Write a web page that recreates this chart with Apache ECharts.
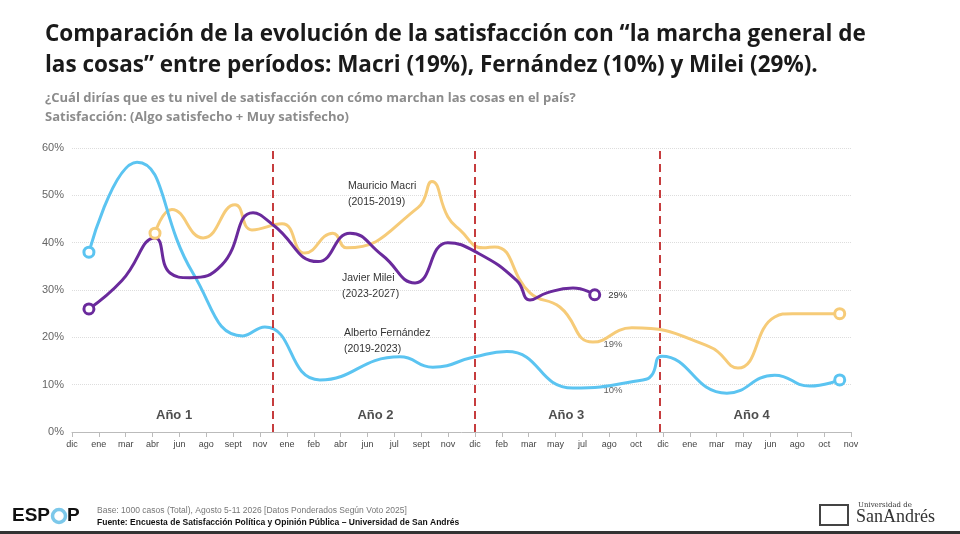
<!DOCTYPE html>
<html><head><meta charset="utf-8">
<script src="https://cdn.jsdelivr.net/npm/echarts@6/dist/echarts.min.js"></script>
<style>html,body{margin:0;padding:0;background:#fff}#c{width:960px;height:534px}</style>
</head><body><div id="c"></div>
<script>
const monthLabels = ['dic','ene','mar','abr','jun','ago','sept','nov','ene','feb','abr','jun','jul','sept','nov','dic','feb','mar','may','jul','ago','oct','dic','ene','mar','may','jun','ago','oct','nov'];
const fernandezX = [0.63,2.42,4.5,6.36,7.18,9.23,12.21,13.43,15.0,16.19,18.65,21.25,21.58,21.96,24.38,26.16,27.47,28.58];
const fernandezY = [38,57,33.6,20.3,22.2,11,15.9,13.7,15.9,17,9.3,11,12,16,8.2,12,9.7,11];
const macriX = [3.09,3.72,4.88,6.07,6.7,7.82,8.67,9.71,10.23,12.88,13.4,13.99,14.44,15.3,15.74,17.05,18.16,19.39,20.84,23.74,24.79,26.16,26.83,28.58];
const macriY = [42,47,41,48,42.7,44,37.8,42,38.9,47.4,52.9,45.5,42.7,38.9,39.1,29.4,26.4,19,22,18,13.5,24.3,25,25];
const mileiX = [0.63,1.86,3.09,3.65,4.39,5.58,6.74,7.48,9.16,10.35,11.54,12.77,13.99,15.11,16.56,17.05,17.68,18.65,19.46];
const mileiY = [26,32,41,33.6,32.6,35.3,46.3,43.8,36,42,37.4,31.5,40,37.8,32,27.9,29.4,30.4,29];
const dividers = [7.48,15.0,21.88];
const yearLabels = [['Año 1',3.8],['Año 2',11.3],['Año 3',18.4],['Año 4',25.3]];
const valueLabels = [['19%',19.6,18.6],['10%',19.6,8.7]];

const zip=(xs,ys)=>xs.map((x,i)=>[x,ys[i]]);
function endMarks(d,color,lbl){
  return d.map((p,i)=>({value:p,symbol:(i===0||i===d.length-1)?'circle':'none',symbolSize:10,
    itemStyle:{color:'#fff',borderColor:color,borderWidth:3},
    label:(lbl&&i===d.length-1)?{show:true,position:'right',formatter:lbl,fontSize:9.5,color:'#333',offset:[2,1]}:{show:false}}));
}
function ser(name,d,color,lbl,extra){
  return Object.assign({name,type:'line',smooth:0.5,data:endMarks(d,color,lbl),lineStyle:{color,width:3},itemStyle:{color},z:3},extra||{});
}
const ch=echarts.init(document.getElementById('c'));
ch.setOption({
  animation:false,
  title:[{text:'Comparación de la evolución de la satisfacción con “la marcha general de\nlas cosas” entre períodos: Macri (19%), Fernández (10%) y Milei (29%).',left:40,top:14,
    textStyle:{fontSize:22.5,fontWeight:'bold',color:'#1a1a1a',lineHeight:31,fontFamily:'Open Sans'}},
    {text:'¿Cuál dirías que es tu nivel de satisfacción con cómo marchan las cosas en el país?\nSatisfacción: (Algo satisfecho + Muy satisfecho)',left:40,top:84,
    textStyle:{fontSize:13,fontWeight:'bold',color:'#8c8c8c',lineHeight:19,fontFamily:'Open Sans'}}],
  grid:{left:72,right:109,top:148,bottom:102},
  xAxis:{type:'value',min:0,max:29,interval:1,
    axisLine:{lineStyle:{color:'#bbb'}},axisTick:{show:true,lineStyle:{color:'#bbb'}},
    axisLabel:{fontSize:9,color:'#444',formatter:v=>monthLabels[v]||''},splitLine:{show:false}},
  yAxis:{type:'value',min:0,max:60,interval:10,axisLabel:{formatter:'{value}%',color:'#666',fontSize:11},
    splitLine:{lineStyle:{type:'dotted',color:'#ddd'}},axisLine:{show:false},axisTick:{show:false}},
  series:[
    ser('Macri',zip(macriX,macriY),'#f6cb78',null),
    ser('Fernández',zip(fernandezX,fernandezY),'#5bc4f1',null),
    ser('Milei',zip(mileiX,mileiY),'#6a2a9c','29%',{
      markLine:{symbol:'none',silent:true,label:{show:false},lineStyle:{color:'#c0282a',type:[8,5],width:1.8},
        data:dividers.map(x=>({xAxis:x}))}}),
    {type:'scatter',symbolSize:0,silent:true,data:yearLabels.map(y=>({value:[y[1],4],name:y[0]})),
      label:{show:true,formatter:'{b}',fontWeight:'bold',fontSize:13,color:'#222',offset:[0,2]}},
    {type:'scatter',symbolSize:0,silent:true,data:valueLabels.map(y=>({value:[y[1],y[2]],name:y[0]})),
      label:{show:true,formatter:'{b}',position:'right',fontSize:9.5,color:'#333'}}
  ],
  graphic:[
    {type:'text',left:348,top:178,style:{text:'Mauricio Macri\n(2015-2019)',align:'center',fill:'#333',fontSize:10.5,lineHeight:16}},
    {type:'text',left:342,top:270,style:{text:'Javier Milei\n(2023-2027)',align:'center',fill:'#333',fontSize:10.5,lineHeight:16}},
    {type:'text',left:344,top:325,style:{text:'Alberto Fernández\n(2019-2023)',align:'center',fill:'#333',fontSize:10.5,lineHeight:16}},
    {type:'text',left:12,top:506,style:{text:'ESP',fill:'#111',fontSize:19,fontWeight:'bold'}},
    {type:'circle',shape:{cx:59,cy:516,r:6.5},style:{fill:'none',stroke:'#7cc8ea',lineWidth:3.5}},
    {type:'text',left:67,top:506,style:{text:'P',fill:'#111',fontSize:19,fontWeight:'bold'}},
    {type:'text',left:97,top:506,style:{text:'Base: 1000 casos (Total), Agosto 5-11 2026 [Datos Ponderados Según Voto 2025]',fill:'#777',fontSize:8.5}},
    {type:'text',left:97,top:518,style:{text:'Fuente: Encuesta de Satisfacción Política y Opinión Pública – Universidad de San Andrés',fill:'#111',fontSize:8.5,fontWeight:'bold'}},
    {type:'text',left:858,top:502,style:{text:'Universidad de',fill:'#333',fontSize:7,fontFamily:'DejaVu Serif'}},
    {type:'text',left:856,top:508,style:{text:'SanAndrés',fill:'#333',fontSize:18,fontFamily:'Liberation Serif'}},
    {type:'rect',shape:{x:820,y:505,width:28,height:20},style:{fill:'none',stroke:'#444',lineWidth:2}},
    {type:'rect',shape:{x:0,y:531,width:960,height:3},style:{fill:'#333'}}
  ]
});
</script></body></html>
